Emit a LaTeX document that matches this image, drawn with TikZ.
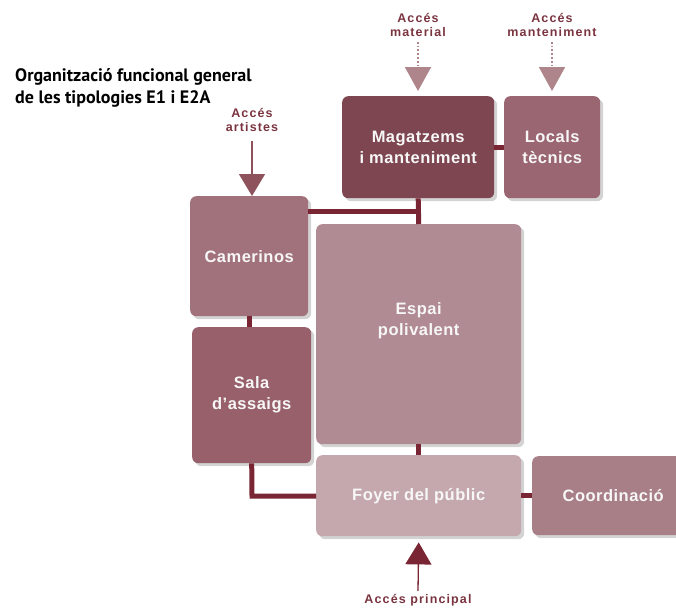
\documentclass[tikz,border=0pt]{standalone}
\usepackage{fontspec}
\setmainfont{Liberation Sans}
\newfontfamily\titlefont{PT Sans}
\usetikzlibrary{shadows,arrows.meta,calc}
\definecolor{cMag}{HTML}{7E4651}
\definecolor{cLoc}{HTML}{9A6671}
\definecolor{cCam}{HTML}{A1727C}
\definecolor{cSala}{HTML}{98606B}
\definecolor{cEsp}{HTML}{B08B93}
\definecolor{cFoy}{HTML}{C4A8AE}
\definecolor{cCoo}{HTML}{A87E87}
\definecolor{cLine}{HTML}{7A2533}
\definecolor{cAcc}{HTML}{7A3440}
\tikzset{
  box/.style={draw=none, rounded corners=6pt, anchor=north west, inner sep=0pt,
    drop shadow={shadow xshift=3pt, shadow yshift=-3pt, opacity=0.35, fill=gray},
    text=white!94!gray, font=\fontsize{16.5}{21}\selectfont\bfseries\addfontfeatures{LetterSpace=3}, align=center},
  link/.style={draw=cLine, line width=5pt},
  acc/.style={text=cAcc, font=\fontsize{12.5}{14}\selectfont\bfseries\addfontfeatures{LetterSpace=9}, align=center, inner sep=0pt},
  solidarr/.style={draw=#1, line width=1.3pt, -{Triangle[width=26pt,length=22pt,fill=#1]}},
  dotarr/.style={draw=#1, line width=1.8pt, dotted, -{Triangle[width=26pt,length=24pt,fill=#1]}},
}
\begin{document}
\begin{tikzpicture}[x=1pt,y=-1pt]
\useasboundingbox (0,0) rectangle (676,608);
% title
\node[anchor=west, inner sep=0pt, font=\titlefont\fontsize{18}{22}\selectfont\bfseries, align=left] (title) at (15,88)
  {Organització funcional general\\de les tipologies E1 i E2A};
% boxes
\node[box, fill=cMag, minimum width=152pt, minimum height=102pt] (mag) at (342,96) {Magatzems\\i manteniment};
\node[box, fill=cLoc, minimum width=96pt, minimum height=102pt] (loc) at (504,96) {Locals\\tècnics};
\node[box, fill=cCam, minimum width=118pt, minimum height=120pt] (cam) at (190,196) {Camerinos};
\node[box, fill=cEsp, minimum width=205pt, minimum height=220pt] (esp) at (316,224) {Espai\\polivalent\\[10pt]};
\node[box, fill=cSala, minimum width=119pt, minimum height=136pt] (sal) at (192,327) {Sala\\d’assaigs};
\node[box, fill=cFoy, minimum width=205pt, minimum height=81pt] (foy) at (316,455) {Foyer del públic};
\node[box, fill=cCoo, minimum width=150pt, minimum height=79pt] (coo) at (532,456) {\hspace*{12pt}Coordinació};
% link helper coordinates
\coordinate (bend1) at (418,211);
\coordinate (bend2) at (252,496);
% links
\draw[link] (mag.east) -- (loc.west);
\draw[link] (mag.south) -- (esp.north);
\draw[link] (cam.east |- bend1) -- (bend1);
\draw[link] (cam.south) -- (cam.south |- sal.north);
\draw[link] (esp.south) -- (foy.north);
\draw[link] (sal.south) -- (bend2) -- (foy.west |- bend2);
\draw[link] (foy.east) -- (coo.west);
% access labels and arrows
\node[acc] (aart) at (252,120) {Accés\\artistes};
\node[acc] (amat) at (418,25) {Accés\\material};
\node[acc] (aman) at (552,25) {Accés\\manteniment};
\node[acc] (aprin) at (418,600) {Accés principal};
\draw[solidarr=cAcc!85] ($(aart.south)+(0,9)$) -- (cam.north -| aart.south);
\draw[dotarr=cAcc!60] ($(amat.south)+(0,5)$) -- (418,91);
\draw[dotarr=cAcc!60] ($(aman.south)+(0,5)$) -- (552,91);
\draw[solidarr=cLine] ($(aprin.north)+(0,-3)$) -- ($(foy.south)+(0,6)$);
\end{tikzpicture}
\end{document}
